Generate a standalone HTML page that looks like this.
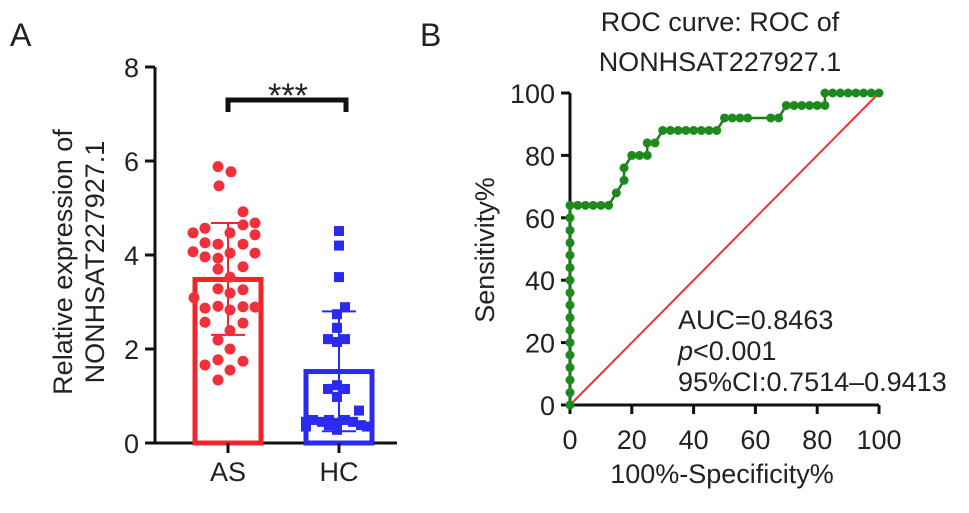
<!DOCTYPE html>
<html><head><meta charset="utf-8"><style>
body{margin:0;background:#fff}
svg text{font-family:"Liberation Sans",Arial,sans-serif;fill:#222}
</style></head><body>
<svg id="fig" width="969" height="508" viewBox="0 0 969 508">
<text x="10" y="46" font-size="32">A</text>
<text x="420" y="46" font-size="32">B</text>
<g id="left"></g>
<g id="right"></g>
</svg>
<script>
const groups=["AS","HC"];
const means=[3.48,1.52];
const sdLow=[2.30,0.25];
const sdHigh=[4.68,2.80];
const asVals=[5.88,5.77,5.47,4.92,4.57,4.64,4.68,4.47,4.47,4.43,4.26,4.23,4.23,4.07,3.96,3.93,4.04,4.04,3.70,3.75,3.53,3.28,3.19,3.26,3.09,2.87,2.91,2.83,2.90,2.89,2.57,2.55,2.39,2.19,2.0,1.66,1.77,1.74,1.55,1.34];
const asJit=[-10,3,-9,15,-23,15,27,-35,2,27,-23,-10,15,-35,-23,-10,2,27,-10,15,2,-10,2,15,-34,-23,-10,2,15,27,-23,15,2,-10,2,-23,-10,15,2,-10];
const hcVals=[4.51,4.20,3.53,2.89,2.74,2.45,2.21,2.21,2.15,1.15,1.23,1.15,0.98,0.69,0.45,0.49,0.45,0.49,0.43,0.49,0.45,0.38,0.35,0.35,0.28,0.38];
const hcJit=[0,0,0,6,-2,-2,-11,6,-2,-11,-2,6,-2,20,-33,-26,-17,-10,-2,6,14,22,28,-33,-2,-10];
const yTicksL=[0,2,4,6,8];
const fpr=[0,0,0,0,0,0,0,0,0,0,0,0,0,0,0,0,0,2.5,5,7.5,10,12.5,15,17.5,17.5,20,22.5,25,25,27.5,30,32.5,35,37.5,40,42.5,45,47.5,50,52.5,55,57.5,65,67.5,70,72.5,75,77.5,80,82.5,82.5,85,87.5,90,92.5,95,97.5,100];
const tpr=[0,4,8,12,16,20,24,28,32,36,40,44,48,52,56,60,64,64,64,64,64,64,68,72,76,80,80,80,84,84,88,88,88,88,88,88,88,88,92,92,92,92,92,92,96,96,96,96,96,96,100,100,100,100,100,100,100,100];
const ticksR=[0,20,40,60,80,100];
const NS="http://www.w3.org/2000/svg";
const FS=27;
function mk(p,t,a,txt){const e=document.createElementNS(NS,t);for(const k in a)e.setAttribute(k,a[k]);if(txt!==undefined)e.textContent=txt;p.appendChild(e);return e;}
// Left
const L=document.getElementById('left');
const yL=v=>443-v*47, cx=[228,339];
const ax=mk(L,'path',{d:'M155,67V443H397',stroke:'#111','stroke-width':3,fill:'none'});

yTicksL.forEach(v=>{const t=mk(L,'line',{x1:145,x2:155,y1:yL(v),y2:yL(v),stroke:'#111','stroke-width':3});

const l=mk(L,'text',{x:139,y:yL(v)+10,'font-size':FS,'text-anchor':'end'},v);
});
const col=['#f0242c','#2a2af0'];
groups.forEach((g,i)=>{
 const b=mk(L,'rect',{x:cx[i]-33,y:yL(means[i]),width:66,height:443-yL(means[i]),fill:'none',stroke:col[i],'stroke-width':5});
 
 const e=mk(L,'path',{d:`M${cx[i]},${yL(sdLow[i])}V${yL(sdHigh[i])}M${cx[i]-17},${yL(sdLow[i])}h34M${cx[i]-17},${yL(sdHigh[i])}h34`,stroke:col[i],'stroke-width':2});
 
 const t=mk(L,'line',{x1:cx[i],x2:cx[i],y1:443,y2:453,stroke:'#111','stroke-width':3});
 
 const l=mk(L,'text',{x:cx[i],y:481,'font-size':FS,'text-anchor':'middle'},g);
 
});
asVals.forEach((v,k)=>{const c=mk(L,'circle',{cx:cx[0]+asJit[k],cy:yL(v),r:5.5,fill:'#f0303a'});
});
hcVals.forEach((v,k)=>{const c=mk(L,'rect',{x:cx[1]+hcJit[k]-5,y:yL(v)-5,width:10,height:10,fill:'#2a2af0'});
});
const br=mk(L,'path',{d:'M228,112V100H346V112',stroke:'#111','stroke-width':5,fill:'none'});

const st=mk(L,'text',{x:288,y:107,'font-size':34,'text-anchor':'middle',fill:'#777'},'***');

const yt=mk(L,'text',{transform:'translate(72,262) rotate(-90)','font-size':FS,'text-anchor':'middle'},'Relative expression of');

const yt2=mk(L,'text',{transform:'translate(104,262) rotate(-90)','font-size':FS,'text-anchor':'middle'},'NONHSAT227927.1');

// Right
const R=document.getElementById('right');
const xR=v=>570+v*3.09, yR=v=>405-v*3.12;
const ax2=mk(R,'path',{d:`M${xR(0)},${yR(100)}V${yR(0)}H${xR(100)}`,stroke:'#111','stroke-width':3,fill:'none'});

ticksR.forEach(v=>{
 const a=mk(R,'line',{x1:xR(0)-9,x2:xR(0),y1:yR(v),y2:yR(v),stroke:'#111','stroke-width':3});
 
 const b=mk(R,'text',{x:xR(0)-15,y:yR(v)+10,'font-size':FS,'text-anchor':'end'},v);
 
 const c=mk(R,'line',{x1:xR(v),x2:xR(v),y1:yR(0),y2:yR(0)+9,stroke:'#111','stroke-width':3});
 
 const d=mk(R,'text',{x:xR(v),y:yR(0)+44,'font-size':FS,'text-anchor':'middle'},v);
 
});
const ref=mk(R,'line',{x1:xR(0),y1:yR(0),x2:xR(100),y2:yR(100),stroke:'#f03030','stroke-width':2});

const pl=mk(R,'polyline',{points:fpr.map((f,i)=>xR(f)+','+yR(tpr[i])).join(' '),fill:'none',stroke:'#1e7a1e','stroke-width':2.5});

fpr.forEach((f,i)=>{const c=mk(R,'circle',{cx:xR(f),cy:yR(tpr[i]),r:4.5,fill:'#1e8a1e'});
});
[['ROC curve: ROC of',31],['NONHSAT227927.1',71]].forEach(([s,y],i)=>{const t=mk(R,'text',{x:720,y:y,'font-size':FS,'text-anchor':'middle'},s);
});
const xt=mk(R,'text',{x:722,y:483,'font-size':FS,'text-anchor':'middle'},'100%-Specificity%');

const yt3=mk(R,'text',{transform:'translate(494,250) rotate(-90)','font-size':FS,'text-anchor':'middle'},'Sensitivity%');

const a1=mk(R,'text',{x:678,y:329,'font-size':FS},'AUC=0.8463');

const a2=mk(R,'text',{x:678,y:360,'font-size':FS});

mk(a2,'tspan',{'font-style':'italic'},'p');mk(a2,'tspan',{},'<0.001');
const a3=mk(R,'text',{x:678,y:391,'font-size':FS},'95%CI:0.7514–0.9413');

</script>
</body></html>
